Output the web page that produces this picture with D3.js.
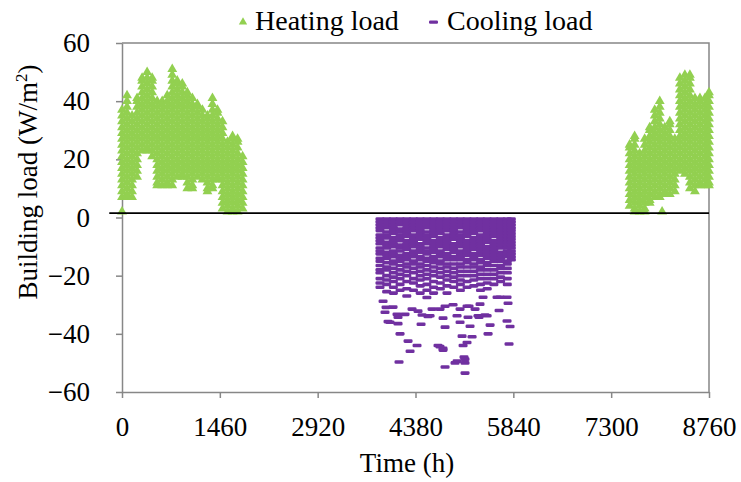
<!DOCTYPE html>
<html>
<head>
<meta charset="utf-8">
<script src="https://cdn.jsdelivr.net/npm/d3@7"></script>
<style>
  body { margin: 0; background: #fff; }
</style>
</head>
<body>
<div id="chart"></div>
<script>
// heating load, early part of the year (hour, load values in W/m2 read per column)
let heatHoursA = [0, 75, 150, 225, 300, 375, 450, 525, 600, 675, 750, 825, 900,
  975, 1050, 1125, 1200, 1275, 1350, 1425, 1500, 1575, 1650, 1725, 1800]
let heatLoadA = [
  [2, 7, 9, 11, 13, 15, 17, 19, 21, 23, 25, 27, 29, 31, 33, 35, 37],
  [7, 8, 10, 12, 14, 16, 18, 20, 22, 24, 26, 28, 30, 32, 34, 36, 38, 40, 42],
  [7, 9, 11, 13, 15, 17, 19, 21, 23, 25, 27, 29, 31, 33, 35],
  [14, 16, 18, 20, 22, 24, 26, 28, 30, 32, 34, 36, 38, 40, 41],
  [23, 25, 27, 29, 31, 33, 35, 37, 39, 41, 43, 45, 47, 48],
  [23, 24, 26, 28, 30, 32, 34, 36, 38, 40, 42, 44, 46, 48, 50],
  [21, 23, 25, 27, 29, 31, 33, 35, 37, 39, 41, 43, 45, 47, 48],
  [11, 12, 14, 16, 18, 20, 22, 24, 26, 28, 30, 32, 34, 36, 38, 40],
  [11, 13, 15, 17, 19, 21, 23, 25, 27, 29, 31, 33, 35, 37, 39, 40],
  [11, 12, 14, 16, 18, 20, 22, 24, 26, 28, 30, 32, 34, 36, 38, 40, 42],
  [11, 13, 15, 17, 19, 21, 23, 25, 27, 29, 31, 33, 35, 37, 39, 41, 43, 45, 47, 49, 51],
  [14, 16, 18, 20, 22, 24, 26, 28, 30, 32, 34, 36, 38, 40, 42, 44, 46, 47],
  [14, 15, 17, 19, 21, 23, 25, 27, 29, 31, 33, 35, 37, 39, 41, 43, 45, 46],
  [10, 12, 14, 16, 18, 20, 22, 24, 26, 28, 30, 32, 34, 36, 38, 40, 42, 43],
  [10, 11, 13, 15, 17, 19, 21, 23, 25, 27, 29, 31, 33, 35, 37, 39, 41],
  [14, 16, 18, 20, 22, 24, 26, 28, 30, 32, 34, 36, 38, 39],
  [13, 15, 17, 19, 21, 23, 25, 27, 29, 31, 33, 35, 37],
  [9, 10, 12, 14, 16, 18, 20, 22, 24, 26, 28, 30, 32, 34, 35],
  [10, 11, 13, 15, 17, 19, 21, 23, 25, 27, 29, 31, 33, 35, 37, 39, 41],
  [13, 14, 16, 18, 20, 22, 24, 26, 28, 30, 32, 34, 36, 37],
  [3, 5, 7, 9, 11, 13, 15, 17, 19, 21, 23, 25, 27, 29, 31, 33],
  [2, 4, 6, 8, 10, 12, 14, 16, 18, 20, 22, 24, 26],
  [2, 3, 5, 7, 9, 11, 13, 15, 17, 19, 21, 23, 25, 27, 28],
  [2, 4, 6, 8, 10, 12, 14, 16, 18, 20, 22, 24, 26, 27],
  [3, 5, 7, 9, 11, 13, 15, 17, 19, 21]
]

// heating load, end of the year
let heatHoursB = [7575, 7650, 7725, 7800, 7875, 7950, 8025, 8060, 8100, 8175, 8250,
  8325, 8400, 8475, 8550, 8625, 8700, 8760]
let heatLoadB = [
  [4, 6, 8, 10, 12, 14, 16, 18, 20, 22, 24, 25],
  [2, 3, 5, 7, 9, 11, 13, 15, 17, 19, 21, 23, 25, 27, 28],
  [2, 4, 6, 8, 10, 12, 14, 16, 18, 20, 22],
  [2, 3, 5, 7, 9, 11, 13, 15, 17, 19, 21, 23, 25, 27],
  [5, 6, 8, 10, 12, 14, 16, 18, 20, 22, 24, 26, 28, 30, 31],
  [7, 9, 11, 13, 15, 17, 19, 21, 23, 25, 27, 29, 31, 33, 35, 37],
  [7, 8, 10, 12, 14, 16, 18, 20, 22, 24, 26, 28, 30, 32, 34, 36, 38, 40],
  [2],
  [8, 9, 11, 13, 15, 17, 19, 21, 23, 25, 27, 29, 31],
  [8, 10, 12, 14, 16, 18, 20, 22, 24, 26, 28, 30, 32, 33],
  [9, 11, 13, 15, 17, 19, 21, 23, 25, 27],
  [16, 18, 20, 22, 24, 26, 28, 30, 32, 34, 36, 38, 40, 42, 44, 46, 48],
  [15, 17, 19, 21, 23, 25, 27, 29, 31, 33, 35, 37, 39, 41, 43, 45, 47, 49],
  [10, 12, 14, 16, 18, 20, 22, 24, 26, 28, 30, 32, 34, 36, 38, 40, 42, 44, 46, 48, 49],
  [9, 11, 13, 15, 17, 19, 21, 23, 25, 27, 29, 31, 33, 35, 37, 39, 41],
  [11, 12, 14, 16, 18, 20, 22, 24, 26, 28, 30, 32, 34, 36, 38, 40, 41],
  [11, 13, 15, 17, 19, 21, 23, 25, 27, 29, 31, 33, 35, 37, 39, 41],
  [11, 12, 14, 16, 18, 20, 22, 24, 26, 28, 30, 32, 34, 36, 38, 40, 42, 43]
]

// cooling load, dense summer band (per column)
let coolHours = [3850, 3950, 4050, 4150, 4250, 4350, 4450, 4550, 4650, 4750, 4850,
  4950, 5050, 5150, 5250, 5350, 5450, 5550, 5650, 5750, 5810]
let coolLoad = [
  [-0.5, -1.5, -2.5, -3.5, -4.5, -6, -7, -8, -9, -10.5, -11.5, -12.5, -14, -15, -16.5, -18, -19, -21, -22.5, -24],
  [-0.5, -1.5, -2.5, -3.5, -5, -6, -7, -8.5, -9.5, -10.5, -12, -13, -14, -15.5, -17, -18, -20, -21.5, -23, -25.5],
  [-0.5, -1.5, -2.5, -3.5, -4.5, -5.5, -7, -8, -9, -10, -11.5, -12.5, -13.5, -15, -16, -17.5, -19, -20.5, -22, -24, -26],
  [-0.5, -1.5, -2.5, -4, -5, -6, -7, -8, -9.5, -10.5, -11.5, -13, -14, -15, -16.5, -18, -19.5, -21, -23, -25],
  [-0.5, -1.5, -2.5, -3.5, -4.5, -5.5, -6.5, -8, -9, -10, -11, -12.5, -13.5, -14.5, -16, -17, -18.5, -20, -22, -24.5, -27],
  [-0.5, -1.5, -2.5, -3.5, -4.5, -6, -7, -8, -9, -10, -11.5, -12.5, -13.5, -15, -16, -17.5, -19, -21, -22.5, -25],
  [-0.5, -1.5, -2.5, -3.5, -4.5, -5.5, -6.5, -7.5, -9, -10, -11, -12, -13.5, -14.5, -16, -17, -18.5, -20, -21.5, -23.5, -26],
  [-0.5, -1.5, -2.5, -3.5, -5, -6, -7, -8, -9, -10.5, -11.5, -12.5, -14, -15, -16.5, -18, -19.5, -21, -23, -25, -27.5],
  [-0.5, -1.5, -2.5, -3.5, -4.5, -5.5, -6.5, -8, -9, -10, -11, -12, -13.5, -14.5, -15.5, -17, -18.5, -20, -22, -24, -26],
  [-0.5, -1.5, -2.5, -3.5, -4.5, -5.5, -7, -8, -9, -10, -11.5, -12.5, -13.5, -15, -16, -17.5, -19, -20.5, -22.5, -24.5],
  [-0.5, -1.5, -2.5, -3.5, -4.5, -6, -7, -8, -9, -10, -11, -12.5, -13.5, -14.5, -16, -17, -18.5, -20, -21.5, -23.5, -26],
  [-0.5, -1.5, -2.5, -3.5, -4.5, -5.5, -6.5, -7.5, -9, -10, -11, -12, -13.5, -14.5, -16, -17.5, -19, -20.5, -22, -24],
  [-0.5, -1.5, -2.5, -3.5, -5, -6, -7, -8, -9, -10, -11.5, -12.5, -13.5, -14.5, -16, -17, -18.5, -20, -21.5, -23, -25],
  [-0.5, -1.5, -2.5, -3.5, -4.5, -5.5, -6.5, -8, -9, -10, -11, -12, -13, -14.5, -15.5, -17, -18.5, -20, -22, -24],
  [-0.5, -1.5, -2.5, -3.5, -4.5, -5.5, -7, -8, -9, -10, -11, -12.5, -13.5, -14.5, -16, -17, -18.5, -20, -21.5, -23.5],
  [-0.5, -1.5, -2.5, -3.5, -4.5, -6, -7, -8, -9, -10, -11, -12, -13, -14.5, -15.5, -17, -18, -19.5, -21, -23, -25],
  [-0.5, -1.5, -2.5, -3.5, -4.5, -5.5, -6.5, -7.5, -8.5, -10, -11, -12, -13, -14, -15.5, -16.5, -18, -19.5, -21, -22.5, -24.5],
  [-0.5, -1.5, -2.5, -3.5, -4.5, -5.5, -6.5, -8, -9, -10, -11, -12, -13, -14, -15, -16.5, -18, -19.5, -21, -23],
  [-0.5, -1.5, -2.5, -3.5, -4.5, -5.5, -6.5, -7.5, -8.5, -9.5, -10.5, -12, -13, -14, -15, -16.5, -17.5, -19, -20.5, -22],
  [-0.5, -1.5, -2.5, -3.5, -4.5, -5.5, -6.5, -7.5, -8.5, -9.5, -10.5, -11.5, -12.5, -13.5, -15, -16, -17.5, -19, -21, -23],
  [-0.5, -1.5, -2.5, -3.5, -4.5, -5.5, -6.5, -7.5, -8.5, -9.5, -10.5, -11.5, -12.5, -13.5, -14.5]
]

// cooling load, scattered peak hours below the band
let coolPeakHours = [3896, 3940, 3925, 4104, 3970, 4000, 4119, 4149, 4269, 4403, 4299, 4134,
  4463, 4567, 4716, 4791, 4821, 4821, 5000, 5119, 5119, 5119, 5075, 5224, 5149, 5090,
  5463, 5493, 5776, 5791, 5746, 5761, 5627, 5448, 5313, 5164, 5194, 4791, 5000, 4597,
  4478, 4328, 4224, 4418, 4821, 4746, 4940, 5045, 5149, 5343, 5597, 5746, 5388, 4045,
  4119, 4627, 5045, 5179, 5269, 5418, 5642, 5104, 4970, 5328, 4791, 4746]
let coolPeakLoad = [-28.8, -30.9, -32.6, -33.3, -35.8, -36, -36.5, -40, -42.5, -44, -46, -49.7,
  -36.7, -34, -44, -45.6, -51.4, -37.7, -49.4, -48.7, -50, -53.5, -40.8, -41, -43, -44,
  -40, -37, -43.5, -37.5, -35.6, -29.5, -32, -33.8, -33.8, -34.3, -37.4, -34.6, -33.8, -33.8,
  -33.5, -31.5, -33.3, -32.2, -30.5, -31.5, -30, -31.5, -30.5, -29.8, -27.4, -27.4, -27.4, -30.8,
  -34.3, -31.5, -36, -30.5, -31.5, -33.5, -27.4, -48, -50, -34.3, -45, -44.4]

let xTicks = [0, 1460, 2920, 4380, 5840, 7300, 8760]
let yTicks = [-60, -40, -20, 0, 20, 40, 60]
let refLineHours = [-190, 8760]
let refLineLoad = 1.5

let green = '#92D050', purple = '#7030A0', axisGrey = '#878787'
let serif = 'Liberation Serif'

let svg = d3.select('#chart').append('svg')
  .attr('width', 741)
  .attr('height', 482)
  .attr('font-family', serif)

let x = d3.scaleLinear().domain([0, 8760]).range([122, 709])
let y = d3.scaleLinear().domain([-60, 60]).range([392, 43])

// plot frame (top and right)
svg.append('path')
  .attr('d', 'M' + x(0) + ',' + y(60) + 'H' + x(8760) + 'V' + y(-60))
  .attr('fill', 'none')
  .attr('stroke', axisGrey)
  .attr('stroke-width', 1.5)

let yAxis = svg.append('g')
  .attr('transform', 'translate(' + x(0) + ',0)')
  .call(d3.axisLeft(y).tickValues(yTicks).tickSize(6).tickSizeOuter(0).tickPadding(26))
let xAxis = svg.append('g')
  .attr('transform', 'translate(0,' + y(-60) + ')')
  .call(d3.axisBottom(x).tickValues(xTicks).tickSize(6).tickSizeOuter(0).tickPadding(19).tickFormat(d3.format('d')))

;[yAxis, xAxis].forEach(function(g){
  g.attr('font-family', serif).attr('font-size', 27)
  g.selectAll('path, line').attr('stroke', axisGrey).attr('stroke-width', 1.5)
  g.selectAll('text').attr('fill', '#000')
})

// heating points
let heatPoints = []
heatHoursA.forEach(function(h, i){ heatLoadA[i].forEach(function(v){ heatPoints.push({h: h, v: v}) }) })
heatHoursB.forEach(function(h, i){ heatLoadB[i].forEach(function(v){ heatPoints.push({h: h, v: v}) }) })

let tri = d3.symbol().type(d3.symbolTriangle).size(42)
svg.append('g').selectAll('path')
  .data(heatPoints)
  .enter()
  .append('path')
  .attr('d', tri)
  .attr('transform', function(d){ return 'translate(' + x(d.h) + ',' + y(d.v) + ')' })
  .attr('fill', green)

// cooling points
let coolPoints = []
coolHours.forEach(function(h, i){ coolLoad[i].forEach(function(v){ coolPoints.push({h: h, v: v}) }) })
coolPeakHours.forEach(function(h, i){ coolPoints.push({h: h, v: coolPeakLoad[i]}) })

svg.append('g').selectAll('rect')
  .data(coolPoints)
  .enter()
  .append('rect')
  .attr('x', function(d){ return x(d.h) - 4.5 })
  .attr('y', function(d){ return y(d.v) - 1.8 })
  .attr('width', 9)
  .attr('height', 3.6)
  .attr('rx', 1.3)
  .attr('fill', purple)

// black reference line near zero
svg.append('line')
  .attr('x1', x(refLineHours[0]))
  .attr('x2', x(refLineHours[1]))
  .attr('y1', y(refLineLoad))
  .attr('y2', y(refLineLoad))
  .attr('stroke', '#000')
  .attr('stroke-width', 1.6)

// axis titles
svg.append('text')
  .attr('x', 407)
  .attr('y', 472)
  .attr('text-anchor', 'middle')
  .attr('font-size', 27)
  .text('Time (h)')

let yTitle = svg.append('text')
  .attr('transform', 'translate(37,182) rotate(-90)')
  .attr('text-anchor', 'middle')
  .attr('font-size', 27)
yTitle.append('tspan').text('Building load (W/m')
yTitle.append('tspan').attr('dy', -10).attr('font-size', 17).text('2')
yTitle.append('tspan').attr('dy', 10).text(')')

// legend
let legend = svg.append('g').attr('font-size', 28)
legend.append('path')
  .attr('d', d3.symbol().type(d3.symbolTriangle).size(30))
  .attr('transform', 'translate(243,22)')
  .attr('fill', green)
legend.append('text').attr('x', 255).attr('y', 30).text('Heating load')
legend.append('rect')
  .attr('x', 429).attr('y', 20.5).attr('width', 9).attr('height', 3.2).attr('rx', 1.2)
  .attr('fill', purple)
legend.append('text').attr('x', 447).attr('y', 30).text('Cooling load')
</script>
</body>
</html>
